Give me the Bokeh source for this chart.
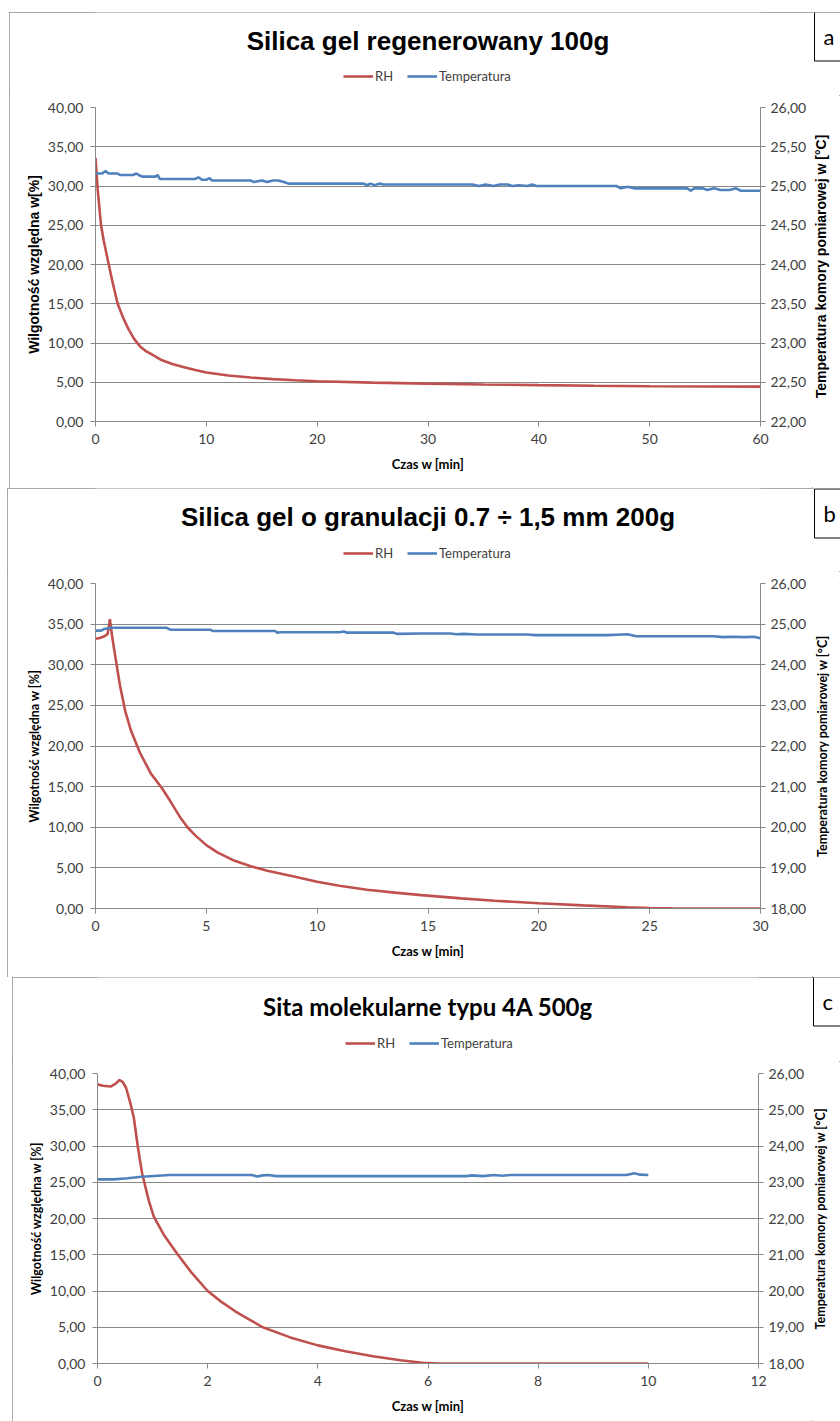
import math
from bokeh.plotting import figure
from bokeh.models import Range1d, LinearAxis, FixedTicker, Legend, LegendItem, Label
from bokeh.layouts import column, row
from bokeh.embed import file_html
from bokeh.resources import INLINE

# ---------------- data ----------------
# Panel a: Silica gel regenerowany 100g
a_rh_time = [0, 0.2, 0.5, 0.75, 1.0, 1.5, 2.0, 2.5, 3.0, 3.5, 4.0, 4.5, 5.0, 6.0, 7.0, 8.0, 9.0,
             10, 12, 14, 16, 18, 20, 25, 30, 35, 40, 45, 50, 55, 60]
a_rh = [33.6, 29.5, 25.0, 23.0, 21.3, 18.0, 15.0, 13.2, 11.7, 10.5, 9.6, 9.0, 8.6, 7.8, 7.3, 6.9, 6.55,
        6.25, 5.85, 5.6, 5.4, 5.25, 5.13, 4.95, 4.82, 4.72, 4.63, 4.56, 4.5, 4.46, 4.44]
a_temp_time = [0, 0.6, 0.9, 1.2, 2.0, 2.2, 3.4, 3.7, 3.9, 4.2, 5.4, 5.6, 5.8, 9.0, 9.3, 9.6, 10.0, 10.3,
               10.5, 14.0, 14.3, 15.0, 15.5, 16.0, 16.5, 17.0, 17.4, 24.2, 24.5, 24.8, 25.2, 25.6,
               26.0, 34.0, 34.6, 35.2, 35.9, 36.5, 37.2, 37.6, 38.2, 39.0, 39.4, 39.8, 47.0, 47.4,
               48.0, 48.6, 53.4, 53.7, 54.0, 54.8, 55.2, 55.8, 56.4, 57.2, 57.8, 58.2, 60.0]
a_temp = [25.16, 25.16, 25.19, 25.16, 25.16, 25.14, 25.14, 25.16, 25.14, 25.12, 25.12, 25.14, 25.09,
          25.09, 25.11, 25.08, 25.08, 25.10, 25.07, 25.07, 25.05, 25.07, 25.05, 25.07, 25.07, 25.05,
          25.03, 25.03, 25.01, 25.03, 25.01, 25.03, 25.02, 25.02, 25.00, 25.02, 25.00, 25.02, 25.02,
          25.00, 25.01, 25.00, 25.02, 25.00, 25.00, 24.97, 24.99, 24.97, 24.97, 24.94, 24.97, 24.97,
          24.95, 24.97, 24.95, 24.95, 24.97, 24.94, 24.94]

# Panel b: Silica gel o granulacji 0.7 ÷ 1,5 mm 200g
b_rh_time = [0, 0.2, 0.4, 0.55, 0.65, 0.75, 0.9, 1.1, 1.35, 1.6, 2.0, 2.5, 3.0, 3.4, 3.8, 4.15, 4.5,
             5.0, 5.5, 6.25, 7.0, 7.75, 9.0, 10, 11, 12.25, 13.5, 14.7, 16.5, 18, 20, 22, 24, 25,
             26, 27, 30]
b_rh = [33.2, 33.3, 33.5, 33.8, 35.6, 33.5, 30.9, 27.5, 24.2, 21.9, 19.2, 16.6, 14.8, 13.1, 11.3,
        10.0, 9.0, 7.8, 6.9, 5.9, 5.2, 4.65, 3.9, 3.3, 2.8, 2.3, 1.95, 1.65, 1.25, 0.95, 0.65, 0.38,
        0.15, 0.06, 0.02, 0.0, 0.0]
b_temp_time = [0, 0.25, 0.4, 0.7, 3.2, 3.4, 5.2, 5.3, 8.1, 8.2, 8.35, 11.0, 11.2, 11.35, 13.45, 13.6,
               14.7, 16.0, 16.3, 16.6, 17.2, 19.5, 19.8, 20.2, 23.1, 23.5, 24.0, 24.4, 27.9, 28.3,
               28.8, 29.3, 29.7, 30.0]
b_temp = [24.84, 24.84, 24.88, 24.91, 24.91, 24.86, 24.86, 24.83, 24.83, 24.79, 24.80, 24.80, 24.82,
          24.79, 24.79, 24.76, 24.77, 24.77, 24.75, 24.76, 24.745, 24.745, 24.73, 24.73, 24.73,
          24.74, 24.75, 24.70, 24.70, 24.68, 24.69, 24.68, 24.69, 24.65]

# Panel c: Sita molekularne typu 4A 500g
c_rh_time = [0, 0.1, 0.24, 0.33, 0.4, 0.46, 0.52, 0.6, 0.66, 0.73, 0.81, 0.93, 1.02, 1.2, 1.45, 1.7,
             2.0, 2.25, 2.5, 2.75, 3.0, 3.5, 4.0, 4.5, 5.0, 5.5, 5.9, 6.2, 10.0]
c_rh = [38.5, 38.3, 38.2, 38.6, 39.1, 38.8, 38.0, 35.8, 33.9, 30.0, 26.2, 22.5, 20.3, 17.8, 15.1,
        12.6, 10.0, 8.5, 7.2, 6.1, 5.0, 3.6, 2.5, 1.7, 1.0, 0.45, 0.1, 0.0, 0.0]
c_temp_time = [0, 0.3, 0.55, 0.8, 1.1, 1.3, 2.8, 2.9, 3.0, 3.1, 3.25, 6.7, 6.8, 7.0, 7.2, 7.35, 7.5,
               9.6, 9.75, 9.85, 10.0]
c_temp = [23.08, 23.08, 23.11, 23.15, 23.18, 23.2, 23.2, 23.16, 23.19, 23.2, 23.17, 23.17, 23.19,
          23.17, 23.2, 23.18, 23.2, 23.2, 23.25, 23.21, 23.2]

# ticks
rh_ticks = [0, 5, 10, 15, 20, 25, 30, 35, 40]
rh_tick_labels = ["0,00", "5,00", "10,00", "15,00", "20,00", "25,00", "30,00", "35,00", "40,00"]
temp_ticks_a = [22.0, 22.5, 23.0, 23.5, 24.0, 24.5, 25.0, 25.5, 26.0]
temp_tick_labels_a = ["22,00", "22,50", "23,00", "23,50", "24,00", "24,50", "25,00", "25,50", "26,00"]
temp_ticks_bc = [18, 19, 20, 21, 22, 23, 24, 25, 26]
temp_tick_labels_bc = ["18,00", "19,00", "20,00", "21,00", "22,00", "23,00", "24,00", "25,00", "26,00"]
x_ticks_a = [0, 10, 20, 30, 40, 50, 60]
x_ticks_b = [0, 5, 10, 15, 20, 25, 30]
x_ticks_c = [0, 2, 4, 6, 8, 10, 12]

titles = ["Silica gel regenerowany 100g",
          "Silica gel o granulacji 0.7 ÷ 1,5 mm 200g",
          "Sita molekularne typu 4A 500g"]
left_labels = ["Wilgotność względna w[%]", "Wilgotność względna w [%]", "Wilgotność względna w [%]"]
right_labels = ["Temperatura komory pomiarowej  w [°C]",
                "Temperatura komory pomiarowej w [°C]",
                "Temperatura komory pomiarowej w [°C]"]
x_label = "Czas w [min]"
letters = ["a", "b", "c"]
series_names = ["RH", "Temperatura"]

RH_COLOR = "#C0504D"
T_COLOR = "#4F81BD"
GRID = "#888888"
TICK_TXT = "#404040"
PANEL_STYLE = {"outline": "1px solid #8c8c8c", "outline-offset": "-1px"}
SIDE_W = 28


def blank(w, h, top=0, bottom=0, left=0, right=0):
    fw = w - left - right
    fh = h - top - bottom
    f = figure(width=w, height=h, output_backend="svg", toolbar_location=None,
               x_range=Range1d(0, fw), y_range=Range1d(fh, 0),
               x_axis_type=None, y_axis_type=None,
               min_border_top=top, min_border_bottom=bottom,
               min_border_left=left, min_border_right=right,
               outline_line_color=None, background_fill_color="white",
               border_fill_color="white")
    f.grid.visible = False
    return f


def make_header(w, h, left, right, title, title_font, title_size, title_cy, legend_x, legend_cy,
                rt, rv, tt, tv):
    hp = blank(w, h, left=left, right=right)
    fw = w - left - right
    hp.add_layout(Label(x=fw / 2, y=title_cy, text=title, text_align="center",
                        text_baseline="middle", text_font=title_font,
                        text_font_size=title_size, text_font_style="bold",
                        text_color="black"))
    # series drawn on an off-screen range: only their legend samples are visible here
    hp.extra_x_ranges = {"off": Range1d(-1000, -999)}
    hr1 = hp.line(rt, rv, line_color=RH_COLOR, line_width=2.6, x_range_name="off")
    hr2 = hp.line(tt, tv, line_color=T_COLOR, line_width=2.6, x_range_name="off")
    legend = Legend(items=[LegendItem(label=series_names[0], renderers=[hr1]),
                           LegendItem(label=series_names[1], renderers=[hr2])],
                    orientation="horizontal",
                    location=(legend_x - left, h - legend_cy - 7),
                    border_line_color=None, background_fill_alpha=0,
                    label_text_font="Lato", label_text_font_size="13px",
                    label_text_color=TICK_TXT,
                    glyph_width=30, glyph_height=14, label_height=14,
                    label_standoff=2, spacing=12, padding=0, margin=0)
    hp.add_layout(legend, "center")
    return hp


def make_box(h, letter, box_x, box_top):
    bp = blank(SIDE_W, h)
    bp.add_layout(Label(x=box_x, y=box_top + 24, text=letter, text_font="Lato",
                        text_font_size="22px", text_baseline="middle", text_align="left",
                        text_color="black", border_line_color="black", border_line_width=1,
                        background_fill_color="white",
                        padding=dict(left=9, right=14, top=11, bottom=11)))
    return bp


def make_rlabel(h, top, bottom, text, font, size, cx):
    rp = blank(SIDE_W, h, top=top, bottom=bottom)
    fh = h - top - bottom
    rp.add_layout(Label(x=cx, y=fh / 2, text=text, angle=math.pi / 2, text_align="center",
                        text_baseline="middle", text_font=font, text_font_size=size,
                        text_font_style="bold", text_color="black"))
    return rp


def make_chart(w, h, borders, x_end, x_ticks, t_start, t_end, t_ticks, t_labels,
               rt, rv, tt, tv, ylab, lab_font, lab_size):
    top, bottom, left, right = borders
    p = figure(width=w, height=h, output_backend="svg", toolbar_location=None,
               x_range=Range1d(0, x_end), y_range=Range1d(0, 40),
               min_border_top=top, min_border_bottom=bottom,
               min_border_left=left, min_border_right=right,
               outline_line_color=None, background_fill_color="white",
               border_fill_color="white")
    p.extra_y_ranges = {"temp": Range1d(t_start, t_end)}

    p.line(rt, rv, line_color=RH_COLOR, line_width=2.6)
    p.line(tt, tv, line_color=T_COLOR, line_width=2.6, y_range_name="temp")

    xa = p.xaxis[0]
    xa.ticker = FixedTicker(ticks=x_ticks)
    xa.major_label_overrides = {v: str(v) for v in x_ticks}
    ya = p.yaxis[0]
    ya.ticker = FixedTicker(ticks=rh_ticks)
    ya.major_label_overrides = dict(zip(rh_ticks, rh_tick_labels))
    ra = LinearAxis(y_range_name="temp", ticker=FixedTicker(ticks=t_ticks),
                    major_label_overrides=dict(zip(t_ticks, t_labels)))
    p.add_layout(ra, "right")

    for ax in (xa, ya, ra):
        ax.axis_line_color = GRID
        ax.major_tick_line_color = GRID
        ax.major_tick_in = 0
        ax.major_tick_out = 5
        ax.minor_tick_line_color = None
        ax.major_label_text_font = "Lato"
        ax.major_label_text_font_size = "14px"
        ax.major_label_text_color = TICK_TXT
        ax.axis_label_text_font_style = "bold"
        ax.axis_label_text_color = "black"
    xa.axis_label = x_label
    xa.axis_label_text_font = "Lato"
    xa.axis_label_text_font_size = "13px"
    xa.major_label_standoff = 7
    xa.axis_label_standoff = 9
    ya.axis_label = ylab
    ya.axis_label_text_font = lab_font
    ya.axis_label_text_font_size = lab_size
    ya.major_label_standoff = 7
    ya.axis_label_standoff = 3
    ra.major_label_standoff = 5

    p.xgrid.visible = False
    p.ygrid.ticker = FixedTicker(ticks=rh_ticks)
    p.ygrid.grid_line_color = GRID
    p.ygrid.grid_line_width = 1
    return p


# panel a (page origin x=9, y=12; right strip from x=812)
ha = make_header(803, 83, 86, 52, titles[0], "Liberation Sans", "26px", 28, 334, 65,
                 a_rh_time, a_rh, a_temp_time, a_temp)
ba = make_box(83, letters[0], 2, 0)
ca = make_chart(803, 393, (12, 67, 86, 52), 60, x_ticks_a, 22, 26, temp_ticks_a,
                temp_tick_labels_a, a_rh_time, a_rh, a_temp_time, a_temp,
                left_labels[0], "Liberation Sans", "14px")
ra_ = make_rlabel(393, 12, 67, right_labels[0], "Liberation Sans", "14px", 8)
panel_a = column(row(ha, ba, spacing=0), row(ca, ra_, spacing=0), spacing=0,
                 margin=(12, 0, 0, 9), styles=PANEL_STYLE)

# panel b (page origin x=7, y=488)
hb = make_header(805, 83, 88, 52, titles[1], "Liberation Sans", "26px", 28, 336, 66,
                 b_rh_time, b_rh, b_temp_time, b_temp)
bb = make_box(83, letters[1], 2, 1)
cb = make_chart(805, 406, (12, 69, 88, 52), 30, x_ticks_b, 18, 26, temp_ticks_bc,
                temp_tick_labels_bc, b_rh_time, b_rh, b_temp_time, b_temp,
                left_labels[1], "Lato", "12.5px")
rb_ = make_rlabel(406, 12, 69, right_labels[1], "Lato", "12.5px", 10)
panel_b = column(row(hb, bb, spacing=0), row(cb, rb_, spacing=0), spacing=0,
                 margin=(0, 0, 0, 7), styles=PANEL_STYLE)

# panel c (page origin x=12, y=977)
hc = make_header(800, 84, 85, 54, titles[2], "Lato", "24px", 29, 333, 67,
                 c_rh_time, c_rh, c_temp_time, c_temp)
bc = make_box(84, letters[2], 1, 0)
cc = make_chart(800, 360, (12, 58, 85, 54), 12, x_ticks_c, 18, 26, temp_ticks_bc,
                temp_tick_labels_bc, c_rh_time, c_rh, c_temp_time, c_temp,
                left_labels[2], "Lato", "12.5px")
rc_ = make_rlabel(360, 12, 58, right_labels[2], "Lato", "12.5px", 8)
panel_c = column(row(hc, bc, spacing=0), row(cc, rc_, spacing=0), spacing=0,
                 margin=(0, 0, 0, 12), styles=PANEL_STYLE)

layout = column(panel_a, panel_b, panel_c, spacing=0)
open("out.html", "w").write(file_html(layout, INLINE))
